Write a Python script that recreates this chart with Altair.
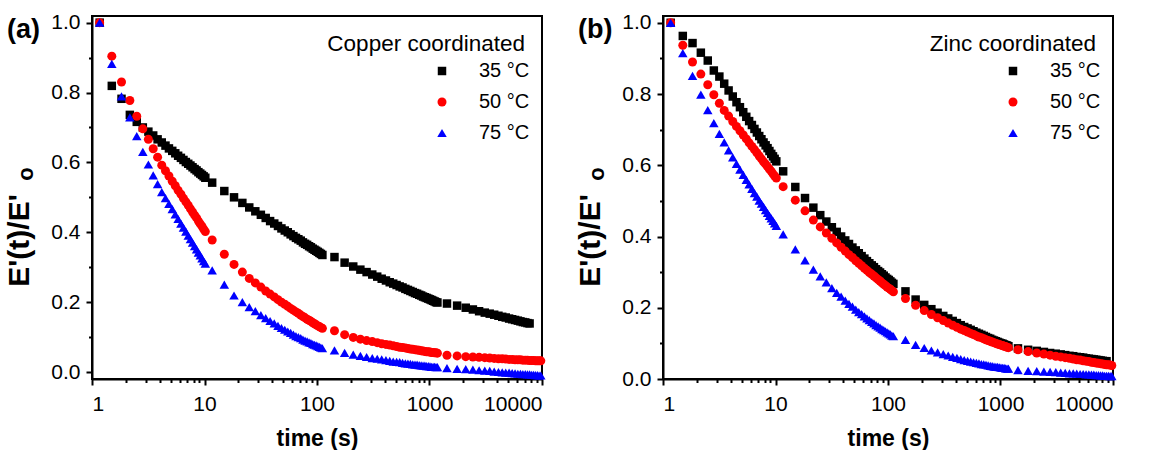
import altair as alt
import pandas as pd

FONT = "Liberation Sans"

# ---------------- data ----------------
time_s = [
    1.17, 1.5, 1.83, 2.17, 2.5, 2.83, 3.17, 3.5, 3.83, 4.17, 4.5, 4.83, 5.17, 5.5,
    5.83, 6.17, 6.5, 6.83, 7.17, 7.5, 7.83, 8.17, 8.5, 8.83, 9.17, 9.5, 9.83, 10.17,
    11.7, 15, 18.3, 21.7, 25, 28.3, 31.7, 35, 38.3, 41.7, 45, 48.3, 51.7, 55, 58.3,
    61.7, 65, 68.3, 71.7, 75, 78.3, 81.7, 85, 88.3, 91.7, 95, 98.3, 101.7, 105, 108.3, 111.7,
    143, 176, 210, 243, 276, 310, 343, 376, 410, 443, 476, 510, 543, 576, 610, 643,
    676, 710, 743, 776, 810, 843, 876, 910, 943, 976, 1010, 1043, 1076, 1110, 1143, 1176,
    1430, 1760, 2100, 2430, 2760, 3100, 3430, 3760, 4100, 4430, 4760, 5100, 5430,
    5760, 6100, 6430, 6760, 7100, 7430, 7760, 8100, 8430, 8760, 9100, 9430, 9760,
]

temps = ["35 \u00b0C", "50 \u00b0C", "75 \u00b0C"]

cu_35 = [
    1.000, 0.819, 0.782, 0.736, 0.716, 0.700, 0.688, 0.677, 0.666, 0.657, 0.648, 0.640, 0.633, 0.626,
    0.619, 0.613, 0.607, 0.601, 0.596, 0.591, 0.586, 0.581, 0.577, 0.572, 0.568, 0.564, 0.560, 0.556,
    0.542, 0.518, 0.500, 0.484, 0.471, 0.460, 0.450, 0.441, 0.432, 0.425, 0.418, 0.411, 0.405, 0.400,
    0.394, 0.389, 0.384, 0.380, 0.376, 0.371, 0.367, 0.364, 0.360, 0.357, 0.353, 0.350, 0.347, 0.344,
    0.341, 0.338, 0.335,
    0.329, 0.313, 0.302, 0.293, 0.286, 0.279, 0.273, 0.267, 0.262, 0.257, 0.253, 0.249, 0.245, 0.242,
    0.238, 0.235, 0.232, 0.229, 0.226, 0.224, 0.221, 0.219, 0.216, 0.214, 0.212, 0.210, 0.208, 0.206,
    0.204, 0.202, 0.200, 0.199,
    0.196, 0.190, 0.184, 0.179, 0.174, 0.170, 0.167, 0.164, 0.161, 0.158, 0.156, 0.153, 0.151, 0.149,
    0.147, 0.145, 0.143, 0.142, 0.140, 0.139,
]
cu_50 = [
    1.000, 0.904, 0.830, 0.777, 0.732, 0.696, 0.666, 0.639, 0.615, 0.592, 0.576, 0.561, 0.546, 0.533,
    0.520, 0.509, 0.497, 0.487, 0.477, 0.467, 0.458, 0.449, 0.441, 0.432, 0.424, 0.417, 0.409, 0.402,
    0.378, 0.337, 0.308, 0.286, 0.268, 0.255, 0.243, 0.232, 0.223, 0.215, 0.207, 0.200, 0.194, 0.188,
    0.182, 0.177, 0.172, 0.168, 0.163, 0.159, 0.155, 0.151, 0.148, 0.145, 0.141, 0.138, 0.135, 0.132,
    0.130, 0.127, 0.125,
    0.118, 0.107, 0.099, 0.094, 0.090, 0.087, 0.084, 0.081, 0.079, 0.077, 0.075, 0.073, 0.071, 0.070,
    0.069, 0.067, 0.066, 0.065, 0.064, 0.063, 0.062, 0.061, 0.060, 0.059, 0.058, 0.058, 0.057, 0.056,
    0.056, 0.055, 0.055, 0.054,
    0.048, 0.046, 0.044, 0.043, 0.042, 0.041, 0.040, 0.039, 0.038, 0.038, 0.037, 0.036, 0.036, 0.035,
    0.035, 0.035, 0.034, 0.034, 0.034, 0.033, 0.033, 0.033, 0.032, 0.032, 0.032, 0.032,
]
cu_75 = [
    1.000, 0.882, 0.789, 0.729, 0.675, 0.630, 0.594, 0.563, 0.538, 0.515, 0.498, 0.481, 0.466, 0.451,
    0.438, 0.425, 0.413, 0.402, 0.390, 0.380, 0.370, 0.360, 0.351, 0.342, 0.334, 0.325, 0.317, 0.310,
    0.291, 0.250, 0.219, 0.200, 0.186, 0.174, 0.163, 0.154, 0.146, 0.139, 0.132, 0.126, 0.121, 0.116,
    0.112, 0.107, 0.103, 0.100, 0.097, 0.093, 0.090, 0.088, 0.085, 0.083, 0.080, 0.078, 0.076, 0.074,
    0.072, 0.070, 0.068,
    0.062, 0.055, 0.050, 0.046, 0.043, 0.040, 0.038, 0.036, 0.034, 0.032, 0.030, 0.029, 0.028, 0.026,
    0.025, 0.024, 0.023, 0.022, 0.021, 0.021, 0.020, 0.019, 0.018, 0.018, 0.017, 0.017, 0.016, 0.015,
    0.015, 0.015, 0.014, 0.014,
    0.011, 0.009, 0.008, 0.007, 0.005, 0.004, 0.003, 0.001, 0.000, -0.001, -0.002, -0.002, -0.003,
    -0.004, -0.005, -0.005, -0.006, -0.006, -0.007, -0.007, -0.008, -0.008, -0.009, -0.009, -0.010, -0.010,
]

zn_35 = [
    1.000, 0.963, 0.943, 0.916, 0.894, 0.866, 0.849, 0.829, 0.810, 0.793, 0.777, 0.763, 0.749, 0.736,
    0.724, 0.713, 0.702, 0.692, 0.682, 0.673, 0.664, 0.656, 0.648, 0.640, 0.632, 0.625, 0.618, 0.611,
    0.583, 0.539, 0.508, 0.481, 0.460, 0.442, 0.426, 0.413, 0.400, 0.389, 0.379, 0.369, 0.361, 0.353,
    0.345, 0.338, 0.331, 0.325, 0.319, 0.314, 0.308, 0.303, 0.299, 0.294, 0.290, 0.285, 0.281, 0.278,
    0.274, 0.270, 0.267,
    0.246, 0.223, 0.208, 0.196, 0.186, 0.177, 0.170, 0.163, 0.157, 0.151, 0.146, 0.142, 0.138, 0.134,
    0.130, 0.127, 0.124, 0.121, 0.118, 0.115, 0.113, 0.110, 0.108, 0.106, 0.104, 0.102, 0.100, 0.099,
    0.097, 0.095, 0.094, 0.092,
    0.086, 0.082, 0.079, 0.076, 0.073, 0.071, 0.069, 0.067, 0.065, 0.064, 0.062, 0.061, 0.060, 0.058,
    0.057, 0.056, 0.055, 0.054, 0.053, 0.052, 0.051, 0.050, 0.050,
]
zn_50 = [
    1.000, 0.937, 0.890, 0.856, 0.826, 0.798, 0.774, 0.754, 0.738, 0.723, 0.709, 0.697, 0.685, 0.674,
    0.663, 0.653, 0.644, 0.635, 0.626, 0.618, 0.610, 0.603, 0.596, 0.589, 0.583, 0.576, 0.570, 0.564,
    0.540, 0.502, 0.472, 0.446, 0.427, 0.410, 0.395, 0.382, 0.370, 0.359, 0.349, 0.341, 0.332, 0.325,
    0.318, 0.311, 0.305, 0.299, 0.294, 0.289, 0.284, 0.279, 0.275, 0.270, 0.266, 0.262, 0.258, 0.255,
    0.252, 0.248, 0.245,
    0.226, 0.207, 0.192, 0.181, 0.172, 0.164, 0.157, 0.151, 0.145, 0.140, 0.136, 0.132, 0.128, 0.125,
    0.121, 0.118, 0.116, 0.113, 0.110, 0.108, 0.106, 0.104, 0.102, 0.100, 0.098, 0.097, 0.095, 0.094,
    0.092, 0.091, 0.089, 0.088,
    0.082, 0.077, 0.073, 0.070, 0.067, 0.064, 0.062, 0.060, 0.058, 0.056, 0.054, 0.053, 0.051, 0.050,
    0.049, 0.047, 0.046, 0.045, 0.044, 0.043, 0.042, 0.041, 0.040, 0.040, 0.039, 0.038,
]
zn_75 = [
    1.000, 0.915, 0.851, 0.798, 0.755, 0.718, 0.688, 0.664, 0.642, 0.622, 0.604, 0.588, 0.573, 0.559,
    0.546, 0.534, 0.522, 0.512, 0.501, 0.492, 0.483, 0.474, 0.466, 0.458, 0.451, 0.444, 0.437, 0.430,
    0.406, 0.364, 0.333, 0.307, 0.288, 0.271, 0.255, 0.242, 0.231, 0.220, 0.211, 0.203, 0.195, 0.188,
    0.182, 0.176, 0.170, 0.165, 0.160, 0.156, 0.151, 0.148, 0.144, 0.140, 0.137, 0.134, 0.131, 0.128,
    0.125, 0.122, 0.120,
    0.110, 0.096, 0.087, 0.080, 0.075, 0.070, 0.066, 0.062, 0.059, 0.056, 0.053, 0.051, 0.049, 0.047,
    0.045, 0.044, 0.042, 0.041, 0.040, 0.038, 0.037, 0.036, 0.035, 0.034, 0.034, 0.033, 0.032, 0.031,
    0.031, 0.030, 0.029, 0.029,
    0.025, 0.023, 0.022, 0.021, 0.020, 0.019, 0.018, 0.017, 0.016, 0.016, 0.015, 0.014, 0.014, 0.013,
    0.013, 0.012, 0.012, 0.011, 0.011, 0.010, 0.010, 0.009, 0.009, 0.009, 0.008, 0.008,
]

x_ticks = [1, 2, 3, 4, 5, 6, 7, 8, 9,
           10, 20, 30, 40, 50, 60, 70, 80, 90,
           100, 200, 300, 400, 500, 600, 700, 800, 900,
           1000, 2000, 3000, 4000, 5000, 6000, 7000, 8000, 9000, 10000]
y_ticks = [0.0, 0.1, 0.2, 0.3, 0.4, 0.5, 0.6, 0.7, 0.8, 0.9, 1.0]


def to_frame(series):
    rows = []
    for temp, vals in zip(temps, series):
        for t, v in zip(time_s, vals):
            rows.append({"time": t, "ratio": v, "temp": temp})
    return pd.DataFrame(rows)


MAJOR_X = "indexof([1,10,100,1000,10000], datum.value) >= 0"
MAJOR_Y = "round(datum.value*10) % 2 == 0"

W, H = 450, 363


def panel(series, tag, legend_title, ydomain):
    df = to_frame(series)
    xaxis = alt.Axis(
        title="time (s)", values=x_ticks, format="d", labelOverlap=False,
        labelExpr=MAJOR_X + " ? datum.label : ''",
        tickSize={"condition": {"test": MAJOR_X, "value": 6}, "value": 3.5},
        labelPadding=8, titleFontSize=23, titleFontWeight="bold",
        titleBaseline="alphabetic", titleY=66,
    )
    yaxis = alt.Axis(
        title="E'(t)/E'", values=y_ticks, labelOverlap=False,
        labelExpr=MAJOR_Y + " ? format(datum.value, '.1f') : ''",
        tickSize={"condition": {"test": MAJOR_Y, "value": 6}, "value": 3.5},
        labelPadding=6, titleFontSize=30, titleFontWeight="bold",
        titleAngle=270, titleAlign="center", titleBaseline="alphabetic",
        titleX=-64, titleY=224,
    )
    leg = alt.Legend(title=None, orient="none", legendX=340, legendY=45,
                     labelFontSize=20, labelOffset=27, rowPadding=11,
                     symbolSize=60, padding=0, labelFont=FONT, labelColor="black")
    pts = alt.Chart(df).mark_point(filled=True, opacity=1).encode(
        x=alt.X("time:Q", scale=alt.Scale(type="log", domain=[1, 10000], nice=False), axis=xaxis),
        y=alt.Y("ratio:Q", scale=alt.Scale(domain=ydomain, nice=False, zero=False), axis=yaxis),
        color=alt.Color("temp:N", scale=alt.Scale(domain=temps, range=["#000000", "#ff0000", "#0000ff"]),
                        legend=leg),
        shape=alt.Shape("temp:N", scale=alt.Scale(domain=temps, range=["square", "circle", "triangle-up"]),
                        legend=leg),
        size=alt.Size("temp:N", scale=alt.Scale(domain=temps, range=[72, 90, 105]), legend=None),
    )
    tag_txt = alt.Chart(pd.DataFrame({"s": [tag]})).mark_text(
        font=FONT, fontSize=27, fontWeight="bold", align="left", baseline="middle", color="black"
    ).encode(x=alt.value(-85), y=alt.value(14), text="s:N")
    sub_o = alt.Chart(pd.DataFrame({"s": ["o"]})).mark_text(
        font=FONT, fontSize=22, fontWeight="bold", angle=270, align="center", baseline="middle", color="black"
    ).encode(x=alt.value(-66), y=alt.value(158), text="s:N")
    ltitle = alt.Chart(pd.DataFrame({"s": [legend_title]})).mark_text(
        font=FONT, fontSize=22.5, align="right", baseline="middle", color="black"
    ).encode(x=alt.value(W - 17), y=alt.value(28), text="s:N")
    return alt.layer(pts, tag_txt, sub_o, ltitle).properties(width=W, height=H)


pa = panel([cu_35, cu_50, cu_75], "(a)", "Copper coordinated", [-0.02, 1.019])
pb = panel([zn_35, zn_50, zn_75], "(b)", "Zinc coordinated", [0.0, 1.019])

chart = alt.hconcat(pa, pb, spacing=27).resolve_scale(
    color="independent", shape="independent", size="independent"
).resolve_legend(
    color="independent", shape="independent"
).configure(
    padding={"left": 3, "top": 10, "right": 0, "bottom": 0}, font=FONT
).configure_axis(
    domainColor="black", domainWidth=2, tickColor="black", tickWidth=2,
    labelColor="black", titleColor="black", labelFont=FONT, titleFont=FONT,
    labelFontSize=21, grid=False,
).configure_view(stroke="black", strokeWidth=2)

chart.save("out.html", embed_options={"renderer": "svg", "actions": False})
